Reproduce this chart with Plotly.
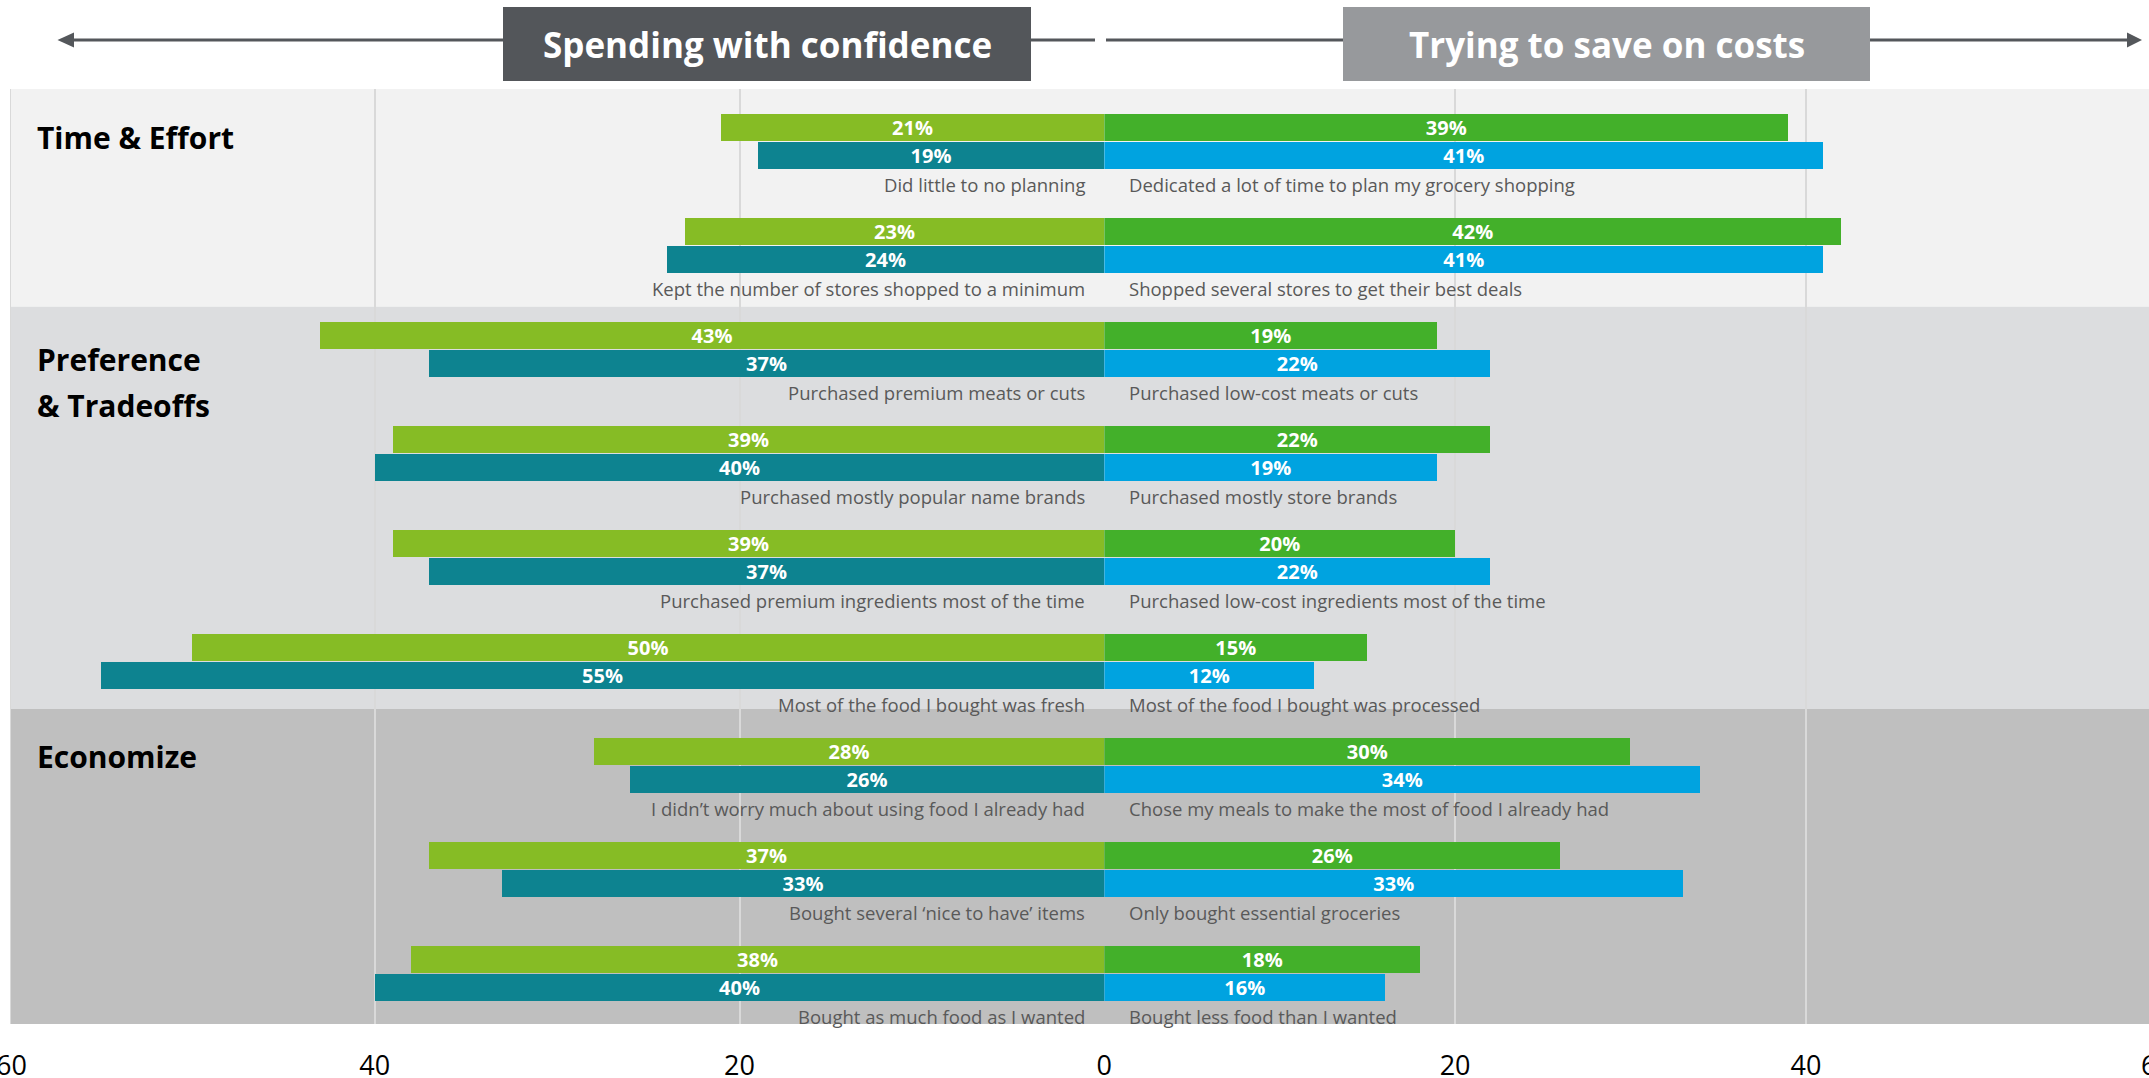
import plotly.graph_objects as go

# ---- data -------------------------------------------------------------
sections = ["Time & Effort", "Preference", "& Tradeoffs", "Economize"]

confident_labels = [
    "Did little to no planning",
    "Kept the number of stores shopped to a minimum",
    "Purchased premium meats or cuts",
    "Purchased mostly popular name brands",
    "Purchased premium ingredients most of the time",
    "Most of the food I bought was fresh",
    "I didn\u2019t worry much about using food I already had",
    "Bought several \u2018nice to have\u2019 items",
    "Bought as much food as I wanted",
]
saving_labels = [
    "Dedicated a lot of time to plan my grocery shopping",
    "Shopped several stores to get their best deals",
    "Purchased low-cost meats or cuts",
    "Purchased mostly store brands",
    "Purchased low-cost ingredients most of the time",
    "Most of the food I bought was processed",
    "Chose my meals to make the most of food I already had",
    "Only bought essential groceries",
    "Bought less food than I wanted",
]

confident_top = [21, 23, 43, 39, 39, 50, 28, 37, 38]
confident_bottom = [19, 24, 37, 40, 37, 55, 26, 33, 40]
saving_top = [39, 42, 19, 22, 20, 15, 30, 26, 18]
saving_bottom = [41, 41, 22, 19, 22, 12, 34, 33, 16]

left_ticks = [40, 20, 0]
right_ticks = [20, 40]
edge_tick = 60

# ---- styling / geometry -----------------------------------------------
W, H = 2149, 1078
ML, MR, MT, MB = 10, 0, 89, 54
PW, PH = W - ML - MR, H - MT - MB
SPLIT = (1104.3 - ML) / PW          # where the two halves meet (paper x)
RIGHT_MAX = (W - 1104.3) / 17.54    # right half: 17.54 px per point

FONT = "Open Sans"
C_LEFT_TOP, C_LEFT_BOT = "#86bc25", "#0d8390"
C_RIGHT_TOP, C_RIGHT_BOT = "#43b02a", "#00a3e0"
LABEL_GREY = "#595959"
ARROW = "#54575b"
GRID = "#d9d9d9"

BAR_W = 0.26
BAR_OFF = 0.132
LABEL_DY = 0.418
TICK_Y = 1064

band_edges = [-0.505, 1.59, 5.457, 8.486]
band_colors = ["#f2f2f2", "#dcdddf", "#bfbfbf"]
title_y = [-0.034, 2.10, 2.535, 5.918]


def px(x):
    return (x - ML) / PW


def py(y):
    return (H - MB - y) / PH


rows = list(range(len(confident_labels)))
fig = go.Figure()


def bars(vals, offset, color, xaxis):
    fig.add_trace(go.Bar(
        x=vals, y=[r + offset for r in rows], orientation="h",
        width=BAR_W, marker=dict(color=color, line=dict(width=0)),
        texttemplate="%{x}%", textposition="inside", insidetextanchor="middle",
        textangle=0,
        textfont=dict(family=FONT, size=20, color="white", weight=700),
        xaxis=xaxis, yaxis="y", showlegend=False, hoverinfo="skip",
    ))


bars(confident_top, -BAR_OFF, C_LEFT_TOP, "x")
bars(confident_bottom, BAR_OFF, C_LEFT_BOT, "x")
bars(saving_top, -BAR_OFF, C_RIGHT_TOP, "x2")
bars(saving_bottom, BAR_OFF, C_RIGHT_BOT, "x2")

annotations = []
for r in rows:
    annotations.append(dict(
        text=confident_labels[r], xref="x", yref="y", x=0, y=r + LABEL_DY,
        xanchor="right", yanchor="middle", xshift=-17, showarrow=False,
        font=dict(family=FONT, size=18.5, color=LABEL_GREY)))
    annotations.append(dict(
        text=saving_labels[r], xref="x2", yref="y", x=0, y=r + LABEL_DY,
        xanchor="left", yanchor="middle", xshift=23, showarrow=False,
        font=dict(family=FONT, size=18.5, color=LABEL_GREY)))

# section titles
for name, y in zip(sections, title_y):
    annotations.append(dict(
        text=name, xref="paper", yref="y", x=px(35), y=y, xanchor="left",
        yanchor="middle", align="left", showarrow=False,
        font=dict(family=FONT, size=30, color="black", weight=700)))

shapes = []
for i in range(3):
    shapes.append(dict(type="rect", xref="paper", yref="y", layer="below",
                       x0=px(11), x1=1.01, y0=band_edges[i], y1=band_edges[i + 1],
                       fillcolor=band_colors[i], line=dict(width=0)))

# gridline on the far-left edge of the chart
shapes.append(dict(type="line", xref="x", yref="y", layer="below",
                   x0=edge_tick, x1=edge_tick, y0=band_edges[0], y1=band_edges[-1],
                   line=dict(color=GRID, width=2)))

# arrow lines and heads
shapes.append(dict(type="line", xref="paper", yref="paper",
                   x0=px(72), x1=px(1095), y0=py(40), y1=py(40),
                   line=dict(color=ARROW, width=3)))
shapes.append(dict(type="line", xref="paper", yref="paper",
                   x0=px(1106), x1=px(2130), y0=py(40), y1=py(40),
                   line=dict(color=ARROW, width=3)))
shapes.append(dict(type="path", xref="paper", yref="paper",
                   path=f"M {px(57.5)} {py(40)} L {px(74)} {py(32.5)} L {px(74)} {py(47.5)} Z",
                   fillcolor=ARROW, line=dict(width=0)))
shapes.append(dict(type="path", xref="paper", yref="paper",
                   path=f"M {px(2142)} {py(40)} L {px(2127)} {py(32.5)} L {px(2127)} {py(47.5)} Z",
                   fillcolor=ARROW, line=dict(width=0)))

# header boxes
headers = [("Spending with confidence", 503, 1031, "#53565a"),
           ("Trying to save on costs", 1343, 1870, "#97999c")]
for text, x0, x1, col in headers:
    shapes.append(dict(type="rect", xref="paper", yref="paper",
                       x0=px(x0), x1=px(x1), y0=py(81), y1=py(7),
                       fillcolor=col, line=dict(width=0)))
    annotations.append(dict(
        text=text, xref="paper", yref="paper", x=px((x0 + x1) / 2), y=py(45),
        xanchor="center", yanchor="middle", showarrow=False,
        font=dict(family=FONT, size=35, color="white", weight=700)))

# outermost ticks sit on the page edges, drawn as text
for xpos in (11, 2156):
    annotations.append(dict(
        text=str(edge_tick), xref="paper", yref="paper", x=px(xpos), y=py(TICK_Y),
        xanchor="center", yanchor="middle", showarrow=False,
        font=dict(family=FONT, size=27, color="black")))

axis_common = dict(
    showgrid=True, gridcolor=GRID, gridwidth=2, zeroline=False,
    showline=False, ticks="outside", ticklen=18, tickcolor="rgba(0,0,0,0)",
    tickfont=dict(family=FONT, size=27, color="black"), fixedrange=True,
    automargin=False,
)

fig.update_layout(
    width=W, height=H,
    margin=dict(l=ML, r=MR, t=MT, b=MB, pad=0, autoexpand=False),
    paper_bgcolor="white", plot_bgcolor="rgba(0,0,0,0)",
    barmode="overlay", bargap=0,
    uniformtext=dict(minsize=20, mode="show"),
    xaxis=dict(domain=[0, SPLIT], range=[60, 0], tickvals=left_ticks,
               ticktext=[str(t) for t in left_ticks], anchor="y", **axis_common),
    xaxis2=dict(domain=[SPLIT, 1], range=[0, RIGHT_MAX], tickvals=right_ticks,
                ticktext=[str(t) for t in right_ticks], anchor="y", **axis_common),
    yaxis=dict(range=[band_edges[-1], band_edges[0]], showgrid=False,
               zeroline=False, showticklabels=False, ticks="", fixedrange=True,
               automargin=False),
    shapes=shapes, annotations=annotations, showlegend=False,
)

fig.write_html("out.html")
